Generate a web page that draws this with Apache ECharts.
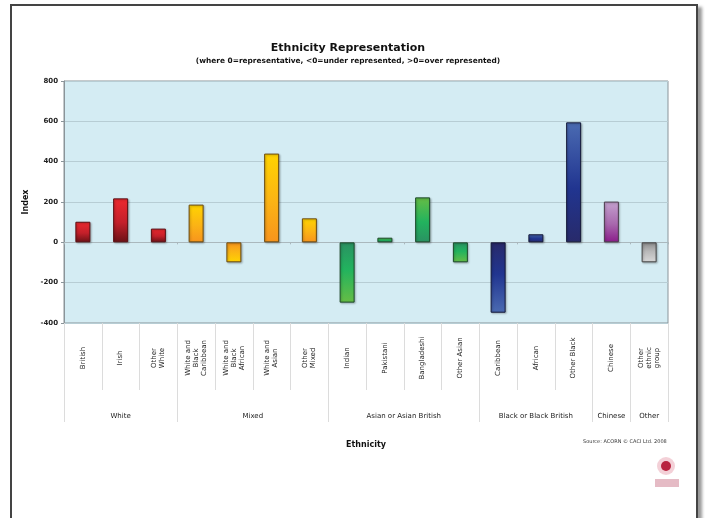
<!DOCTYPE html>
<html><head><meta charset="utf-8">
<script src="https://cdn.jsdelivr.net/npm/echarts@6/dist/echarts.min.js"></script>
<style>
html,body{margin:0;padding:0;background:#fff;overflow:hidden;}
#frame{position:absolute;left:10px;top:4px;width:684px;height:540px;border:2px solid #444;box-shadow:4px 3px 3px #999;background:#fff;}
#chart{position:absolute;left:0;top:0;width:705px;height:518px;}
</style></head>
<body>
<div id="frame"></div>
<div id="chart"></div>
<script>
const categories = ['British','Irish','Other\nWhite','White and\nBlack\nCaribbean','White and\nBlack\nAfrican','White and\nAsian','Other\nMixed','Indian','Pakistani','Bangladeshi','Other Asian','Caribbean','African','Other Black','Chinese','Other\nethnic\ngroup'];
const indexValues = [102, 218, 68, 187, -99, 440, 119, -299, 23, 223, -99, -349, 40, 595, 202, -99];
const groupNames = ['White','Mixed','Asian or Asian British','Black or Black British','Chinese','Other'];
const groupSizes = [3, 4, 4, 3, 1, 1];
const yTicks = [-400, -200, 0, 200, 400, 600, 800];

// colour per group: [far end colour, mid colour, zero-end colour, border]
const groupColors = [
  ['#ee2a2f', '#c3202a', '#6a1216', '#5a0e12'],
  ['#ffd400', '#fbb315', '#f7941d', '#6a4a10'],
  ['#66bd45', '#22b35e', '#2a9162', '#1b4a2a'],
  ['#4b6bb2', '#213590', '#282a6a', '#141838'],
  ['#c4a2cf', '#a868ad', '#8a1c8a', '#4a3a4a'],
  ['#d8d8d8', '#b8b8b8', '#8c8c8c', '#444444']
];

const groupOf = [];
groupSizes.forEach((n, g) => { for (let i = 0; i < n; i++) groupOf.push(g); });
const boundaries = [0];
groupSizes.forEach(n => boundaries.push(boundaries[boundaries.length - 1] + n));
const mids = groupSizes.map((n, g) => boundaries[g] + n / 2);

const barData = indexValues.map((v, i) => {
  const c = groupColors[groupOf[i]];
  const stops = v >= 0
    ? [{offset: 0, color: c[0]}, {offset: 0.55, color: c[1]}, {offset: 1, color: c[2]}]
    : [{offset: 0, color: c[2]}, {offset: 0.45, color: c[1]}, {offset: 1, color: c[0]}];
  return {
    value: v,
    itemStyle: {
      color: new echarts.graphic.LinearGradient(0, 0, 0, 1, stops),
      borderColor: c[3], borderWidth: 1,
      shadowColor: 'rgba(0,0,0,0.25)', shadowBlur: 2, shadowOffsetX: 1, shadowOffsetY: 1
    }
  };
});

const font = 'DejaVu Sans, Verdana, sans-serif';
const chart = echarts.init(document.getElementById('chart'), null, {renderer: 'canvas'});
chart.setOption({
  animation: false,
  backgroundColor: 'transparent',
  title: {
    text: 'Ethnicity Representation',
    subtext: '(where 0=representative, <0=under represented, >0=over represented)',
    left: 343, top: 38, textAlign: 'center', itemGap: 4,
    textStyle: {fontFamily: font, fontSize: 11, fontWeight: 'bold', color: '#111'},
    subtextStyle: {fontFamily: font, fontSize: 7.4, fontWeight: 'bold', color: '#111'}
  },
  grid: {left: 64, right: 37, top: 81, bottom: 195, show: true,
    backgroundColor: '#d4ecf3', borderColor: '#8a9499', borderWidth: 1},
  xAxis: [
    {type: 'category', data: categories, gridIndex: 0,
      axisLine: {onZero: true, lineStyle: {color: '#aab8bd', width: 1}},
      axisTick: {show: true, length: 2, lineStyle: {color: '#aab8bd'}},
      axisLabel: {show: false}, splitLine: {show: false}},
    {type: 'category', data: categories, gridIndex: 0, position: 'bottom',
      axisLine: {onZero: false, show: false},
      axisTick: {show: true, length: 67, lineStyle: {color: '#dcdcdc'}},
      axisLabel: {show: true, interval: 0, rotate: 90, align: 'center', verticalAlign: 'middle',
        margin: 35, fontFamily: font, fontSize: 7, color: '#222', lineHeight: 8}},
    {type: 'value', min: 0, max: 16, gridIndex: 0, position: 'bottom',
      name: 'Ethnicity', nameLocation: 'middle', nameGap: 118,
      nameTextStyle: {fontFamily: font, fontSize: 8, fontWeight: 'bold', color: '#111'},
      axisLine: {onZero: false, show: false},
      splitLine: {show: false},
      axisTick: {show: true, length: 99, customValues: boundaries, lineStyle: {color: '#dcdcdc'}},
      axisLabel: {show: true, margin: 90, customValues: mids, fontFamily: font, fontSize: 7, color: '#222',
        formatter: (v) => { const k = mids.indexOf(v); return k >= 0 ? groupNames[k] : ''; }}}
  ],
  yAxis: {
    type: 'value', min: -400, max: 800, interval: 200,
    name: 'Index', nameLocation: 'middle', nameGap: 32,
    nameTextStyle: {fontFamily: font, fontSize: 8, fontWeight: 'bold', color: '#111'},
    axisLine: {show: true, lineStyle: {color: '#8a9499'}},
    axisTick: {show: true, length: 3, lineStyle: {color: '#8a9499'}},
    axisLabel: {fontFamily: font, fontSize: 7, fontWeight: 'bold', color: '#222', margin: 6,
      formatter: (v) => yTicks.indexOf(v) >= 0 ? String(v) : ''},
    splitLine: {show: true, lineStyle: {color: '#b7cdd4', width: 1}}
  },
  series: [{
    type: 'bar', xAxisIndex: 0, data: barData, barWidth: 15
  }],
  graphic: [
    {type: 'text', left: 583, top: 439,
      style: {text: 'Source: ACORN \u00a9 CACI Ltd. 2008', fontFamily: font, fontSize: 5, fill: '#333'}},
    {type: 'circle', shape: {cx: 666, cy: 466, r: 9}, style: {fill: 'rgba(220,120,140,0.35)'}},
    {type: 'circle', shape: {cx: 666, cy: 466, r: 5}, style: {fill: '#b8233f'}},
    {type: 'rect', shape: {x: 655, y: 479, width: 24, height: 8}, style: {fill: 'rgba(180,60,90,0.35)'}}
  ]
});
</script>
</body></html>
